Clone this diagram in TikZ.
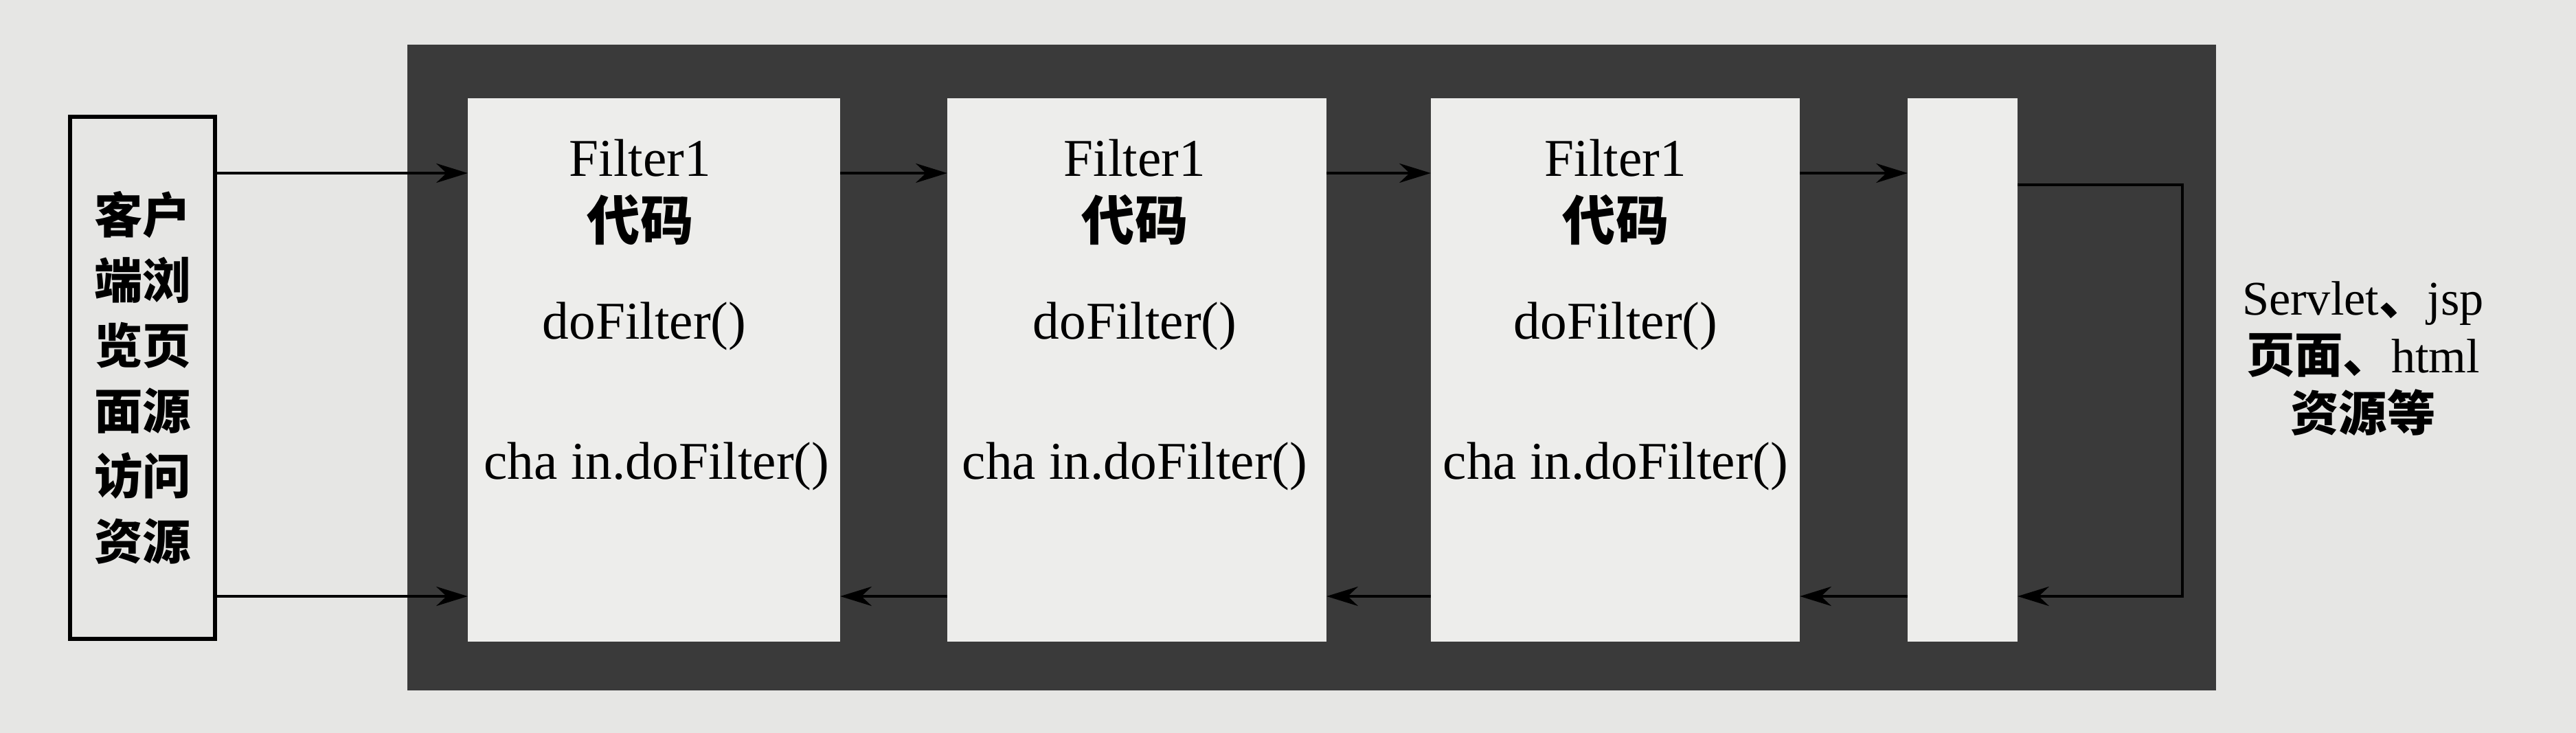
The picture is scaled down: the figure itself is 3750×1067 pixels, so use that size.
\documentclass[tikz,border=0pt]{standalone}
\usepackage{fontspec}
\setmainfont{Liberation Serif}
\newfontfamily\cjk{Noto Sans CJK SC}
\usetikzlibrary{arrows.meta}
\definecolor{bg}{HTML}{E6E6E4}
\definecolor{framec}{HTML}{3A3A3A}
\definecolor{paper}{HTML}{EDEDEB}
\begin{document}
\begin{tikzpicture}[x=0.01cm,y=-0.01cm,
  panel/.style={fill=paper,draw=none,inner sep=0pt,outer sep=0pt},
  arr/.style={-{Stealth[length=13pt,width=8pt]},line width=1.2pt,draw=black},
  lat/.style={font=\fontsize{22pt}{26pt}\selectfont,inner sep=0pt,anchor=base},
  ch/.style={font=\cjk\bfseries\fontsize{22pt}{26pt}\selectfont,inner sep=0pt,anchor=base}]
\fill[bg] (0,0) rectangle (3750,1067);
\useasboundingbox (0,0) rectangle (3750,1067);
% dark frame
\node[fill=framec,draw=none,inner sep=0pt,minimum width=26.31cm,minimum height=9.40cm] (frame) at (1909.5,535) {};
% panels
\node[panel,minimum width=5.42cm,minimum height=7.91cm] (box1) at (952,538.5) {};
\node[panel,minimum width=5.52cm,minimum height=7.91cm] (box2) at (1655,538.5) {};
\node[panel,minimum width=5.37cm,minimum height=7.91cm] (box3) at (2351.5,538.5) {};
\node[panel,minimum width=1.60cm,minimum height=7.91cm] (narrow) at (2857,538.5) {};
% client box
\node[draw=black,line width=1.7pt,fill=bg,minimum width=2.11cm,minimum height=7.60cm,align=center,
      font=\cjk\bfseries\fontsize{20pt}{27pt}\selectfont] (client) at (207.5,550)
  {客户\\端浏\\览页\\面源\\访问\\资源};
% helper coordinates
\coordinate (yt) at (0,252);
\coordinate (yb) at (0,868);
\coordinate (c1) at (3177,269);
\coordinate (c2) at (3177,868);
% forward arrows
\draw[arr] (client.east |- yt) -- (box1.west |- yt);
\draw[arr] (box1.east |- yt) -- (box2.west |- yt);
\draw[arr] (box2.east |- yt) -- (box3.west |- yt);
\draw[arr] (box3.east |- yt) -- (narrow.west |- yt);
% return arrows
\draw[arr] (client.east |- yb) -- (box1.west |- yb);
\draw[arr] (box2.west |- yb) -- (box1.east |- yb);
\draw[arr] (box3.west |- yb) -- (box2.east |- yb);
\draw[arr] (narrow.west |- yb) -- (box3.east |- yb);
\draw[arr] (narrow.east |- c1) -- (c1) -- (c2) -- (narrow.east |- c2);
% texts in panels
\node[lat] (t1a) at (932,257) {Filter1};
\node[ch]  (t1b) at (932,350) {代码};
\node[lat] (t1c) at (938,494) {doFilter()};
\node[lat] (t1d) at (956,698) {cha in.doFilter()};
\node[lat] (t2a) at (1652,257) {Filter1};
\node[ch]  (t2b) at (1652,350) {代码};
\node[lat] (t2c) at (1652,494) {doFilter()};
\node[lat] (t2d) at (1652,698) {cha in.doFilter()};
\node[lat] (t3a) at (2352,257) {Filter1};
\node[ch]  (t3b) at (2352,350) {代码};
\node[lat] (t3c) at (2352,494) {doFilter()};
\node[lat] (t3d) at (2352,698) {cha in.doFilter()};
% right label
\node[align=center,inner sep=0pt,font=\fontsize{20pt}{24pt}\selectfont] (res) at (3440,522)
  {Servlet{\cjk\bfseries 、}jsp\\{\cjk\bfseries 页面、}html\\{\cjk\bfseries 资源等}};
\end{tikzpicture}
\end{document}
